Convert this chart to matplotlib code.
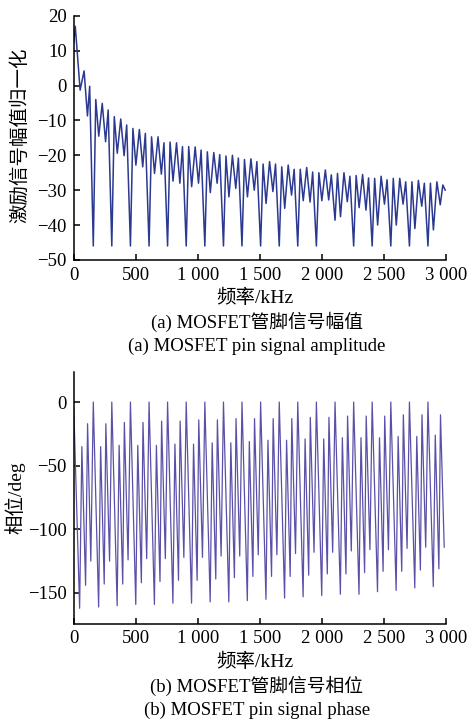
import numpy as np
import matplotlib
matplotlib.use("Agg")
import matplotlib.pyplot as plt
from matplotlib.ticker import FuncFormatter

SERIF = ['Liberation Serif', 'Noto Sans CJK SC']
plt.rcParams['font.family'] = SERIF
plt.rcParams['axes.unicode_minus'] = True

# (a) amplitude, vertices (kHz, value), one row per 150 kHz period
amp_freq = [0, 12, 51, 83, 110, 128,
            157, 177, 201, 229, 256, 277,
            306, 326, 350, 378, 405, 426,
            456, 476, 500, 528, 555, 576,
            606, 626, 650, 678, 705, 726,
            755, 775, 799, 827, 854, 875,
            905, 925, 949, 977, 1004, 1025,
            1055, 1075, 1099, 1127, 1154, 1175,
            1205, 1225, 1249, 1277, 1304, 1325,
            1354, 1374, 1398, 1426, 1453, 1474,
            1504, 1524, 1548, 1576, 1603, 1624,
            1654, 1674, 1698, 1726, 1753, 1774,
            1803, 1823, 1847, 1875, 1902, 1923,
            1953, 1973, 1997, 2025, 2052, 2073,
            2103, 2123, 2147, 2175, 2202, 2223,
            2253, 2273, 2297, 2325, 2352, 2373,
            2402, 2422, 2446, 2474, 2501, 2522,
            2552, 2572, 2596, 2624, 2651, 2672,
            2702, 2722, 2746, 2774, 2801, 2822,
            2851, 2871, 2895, 2923, 2950, 2971, 2990]
amp_val = [12.5, 17.0, -1.3, 4.2, -8.7, -0.2,
           -46, -4.0, -14.5, -5.1, -16.1, -7.0,
           -46, -8.9, -19.4, -9.6, -20.1, -11.3,
           -46, -12.3, -22.8, -12.6, -23.3, -13.7,
           -46, -14.7, -25.2, -14.7, -25.4, -16.4,
           -46, -16.2, -27.4, -16.4, -28.0, -17.5,
           -46, -17.5, -29.0, -17.6, -28.0, -18.5,
           -46, -19.0, -30.7, -19.2, -28.0, -19.8,
           -46, -20.2, -31.9, -20.0, -29.5, -20.8,
           -46, -21.2, -31.9, -21.0, -30.0, -21.8,
           -46, -22.5, -33.8, -21.8, -30.4, -22.5,
           -46, -23.3, -35.2, -22.8, -31.4, -24.0,
           -46, -24.0, -33.0, -23.5, -33.4, -24.8,
           -46, -25.0, -33.0, -24.2, -32.8, -25.6,
           -38.6, -25.2, -37.6, -25.0, -33.3, -26.0,
           -46, -25.8, -35.0, -25.5, -35.7, -26.5,
           -46, -26.6, -40.0, -26.0, -34.0, -27.0,
           -46, -26.6, -40.0, -26.6, -34.0, -27.6,
           -46, -27.6, -41.0, -27.2, -34.6, -28.0,
           -46, -28.0, -41.4, -27.6, -34.2, -28.5, -30.0]

# (b) phase, vertices (kHz, deg)
ph_freq = [0, 47, 65, 95, 111, 137,
           157, 200, 216, 245, 258, 288,
           306, 349, 365, 394, 407, 437,
           456, 499, 515, 544, 557, 587,
           606, 649, 665, 694, 707, 737,
           755, 798, 814, 843, 856, 886,
           905, 948, 964, 993, 1006, 1036,
           1055, 1098, 1114, 1143, 1156, 1186,
           1205, 1248, 1264, 1293, 1306, 1336,
           1354, 1397, 1413, 1442, 1455, 1485,
           1504, 1547, 1563, 1592, 1605, 1635,
           1654, 1697, 1713, 1742, 1755, 1785,
           1803, 1846, 1862, 1891, 1904, 1934,
           1953, 1996, 2012, 2041, 2054, 2084,
           2103, 2146, 2162, 2191, 2204, 2234,
           2253, 2296, 2312, 2341, 2354, 2384,
           2402, 2445, 2461, 2490, 2503, 2533,
           2552, 2595, 2611, 2640, 2653, 2683,
           2702, 2745, 2761, 2790, 2803, 2833,
           2851, 2894, 2910, 2939, 2952, 2982]
ph_val = [-5, -162, -35, -144, -17, -125,
          0, -161, -35, -143, -17, -125,
          0, -160, -34, -143, -16, -124,
          0, -159, -34, -142, -16, -123,
          0, -159, -34, -141, -15, -123,
          0, -158, -33, -140, -15, -122,
          0, -158, -33, -140, -14, -122,
          0, -157, -32, -139, -14, -121,
          0, -157, -32, -138, -13, -121,
          0, -156, -31, -137, -13, -120,
          0, -155, -30, -137, -13, -120,
          0, -154, -30, -137, -13, -119,
          0, -153, -29, -136, -12, -118,
          0, -152, -29, -135, -12, -118,
          0, -151, -28, -135, -11, -117,
          0, -151, -28, -134, -11, -116,
          0, -149, -28, -133, -11, -116,
          0, -148, -27, -133, -10, -115,
          0, -146, -27, -132, -10, -114,
          0, -145, -26, -131, -10, -114]

xticks = [0, 500, 1000, 1500, 2000, 2500, 3000]


def kfmt(v, pos):
    return f"{int(v):,}".replace(",", " ")


def style(ax):
    ax.spines['top'].set_visible(False)
    ax.spines['right'].set_visible(False)
    for s in ('left', 'bottom'):
        ax.spines[s].set_linewidth(1.1)
    ax.tick_params(direction='in', length=4, width=1.1, labelsize=13.5, pad=5)
    ax.set_xlim(0, 3000)
    ax.set_xticks(xticks)
    ax.xaxis.set_major_formatter(FuncFormatter(kfmt))


fig = plt.figure(figsize=(4.67, 7.2), dpi=100)
ax1 = fig.add_axes([0.158, 0.639, 0.798, 0.339])
ax2 = fig.add_axes([0.158, 0.134, 0.798, 0.350])

ax1.plot(amp_freq, amp_val, color='#2b3990', lw=1.1)
style(ax1)
ax1.set_ylim(-50, 20)
ax1.set_yticks(range(-50, 21, 10))
ax1.set_xlabel('频率/kHz', fontsize=14, va='center')
ax1.xaxis.set_label_coords(0.487, -0.156)
ax1.set_ylabel('激励信号幅值归一化', fontsize=14, va='center')
ax1.yaxis.set_label_coords(-0.146, 0.512)

ax2.plot(ph_freq, ph_val, color='#5a50a8', lw=0.9)
style(ax2)
ax2.set_ylim(-174, 24)
ax2.set_yticks([0, -50, -100, -150])
ax2.set_xlabel('频率/kHz', fontsize=14, va='center')
ax2.xaxis.set_label_coords(0.487, -0.154)
ax2.set_ylabel('相位/deg', fontsize=14, va='center')
ax2.yaxis.set_label_coords(-0.158, 0.498)

cx = 257 / 467
fig.text(cx, 1 - 322 / 720, '(a) MOSFET管脚信号幅值', ha='center', va='center', fontsize=13.5)
fig.text(cx, 1 - 346 / 720, '(a) MOSFET pin signal amplitude', ha='center', va='center', fontsize=13.5)
fig.text(cx, 1 - 686 / 720, '(b) MOSFET管脚信号相位', ha='center', va='center', fontsize=13.5)
fig.text(cx, 1 - 710 / 720, '(b) MOSFET pin signal phase', ha='center', va='center', fontsize=13.5)

fig.savefig('out.png', dpi=100)
